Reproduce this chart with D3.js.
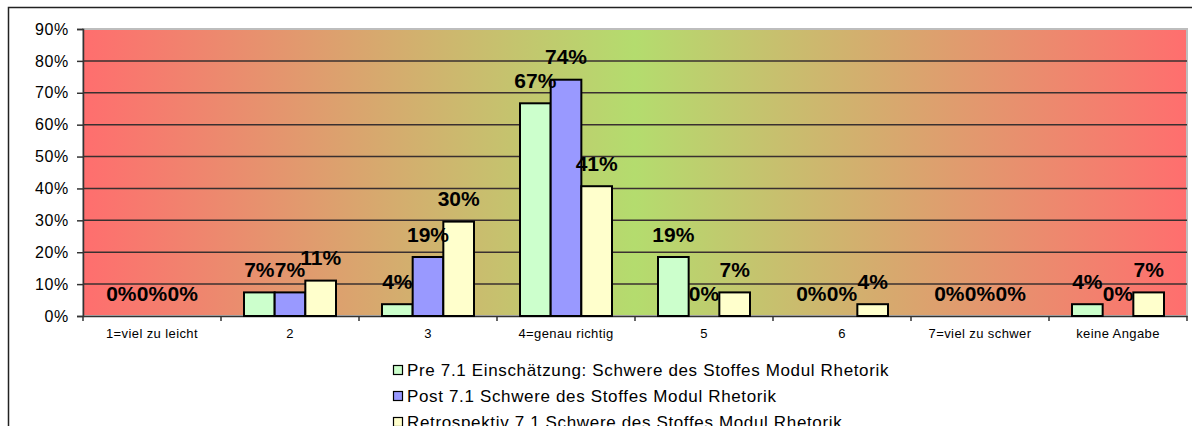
<!DOCTYPE html>
<html>
<head>
<meta charset="utf-8">
<script src="https://cdn.jsdelivr.net/npm/d3@7"></script>
<style>
  body { margin: 0; background: #fff; }
  svg { display: block; font-family: "Liberation Sans", Arial, sans-serif; }
</style>
</head>
<body>
<div id="chart"></div>
<script>
// data (n = 27 answers per series)
var categories = ["1=viel zu leicht", "2", "3", "4=genau richtig", "5", "6", "7=viel zu schwer", "keine Angabe"];
var seriesNames = [
    "Pre 7.1 Einschätzung: Schwere des Stoffes Modul Rhetorik",
    "Post 7.1 Schwere des Stoffes Modul Rhetorik",
    "Retrospektiv 7.1 Schwere des Stoffes Modul Rhetorik"
];
var preValues = [0, 7.4, 3.7, 66.7, 18.5, 0, 0, 3.7];
var postValues = [0, 7.4, 18.5, 74.1, 0, 0, 0, 0];
var retroValues = [0, 11.1, 29.6, 40.7, 7.4, 3.7, 0, 7.4];
var yTicks = [0, 10, 20, 30, 40, 50, 60, 70, 80, 90];
var palette = ["#CCFFCC", "#9999FF", "#FFFFCC"];

var width = 1192, height = 426;
var margin = { top: 29, right: 5, bottom: 110, left: 83 };

var allSeries = [preValues, postValues, retroValues];
var rows = [];
categories.forEach(function (c, i) {
    allSeries.forEach(function (s, j) {
        rows.push({ cat: c, series: j, value: s[i] });
    });
});

var x = d3.scaleBand()
    .domain(categories)
    .range([margin.left, width - margin.right])
    .paddingInner(0)
    .paddingOuter(0);
var xInner = d3.scaleBand()
    .domain([0, 1, 2])
    .range([x.bandwidth() / 6, x.bandwidth() * 5 / 6]);
var y = d3.scaleLinear()
    .domain([0, 90])
    .range([height - margin.bottom, margin.top]);

var svg = d3.select("#chart").append("svg")
    .attr("width", width)
    .attr("height", height);

// outer chart frame
svg.append("path")
    .attr("d", "M8.5," + height + "V7.5H" + width)
    .attr("fill", "none")
    .attr("stroke", "#222")
    .attr("stroke-width", 1.5);

// gradient background red - green - red
var defs = svg.append("defs");
var grad = defs.append("linearGradient")
    .attr("id", "bg")
    .attr("x1", "0%").attr("x2", "100%")
    .attr("y1", "0%").attr("y2", "0%");
grad.append("stop").attr("offset", "0%").attr("stop-color", "#FF6E6E");
grad.append("stop").attr("offset", "50%").attr("stop-color", "#B4DC6E");
grad.append("stop").attr("offset", "100%").attr("stop-color", "#FF6E6E");

var x0 = x.range()[0], x1 = x.range()[1];
svg.append("rect")
    .attr("x", x0)
    .attr("y", y(90))
    .attr("width", x1 - x0)
    .attr("height", y(0) - y(90))
    .attr("fill", "url(#bg)")
    .attr("stroke", "#BDBDBD")
    .attr("stroke-width", 2);

// gridlines
svg.append("g")
    .selectAll("line")
    .data(yTicks.filter(d => d > 0 && d < 90))
    .enter()
    .append("line")
        .attr("x1", x0)
        .attr("x2", x1)
        .attr("y1", d => y(d))
        .attr("y2", d => y(d))
        .attr("stroke", "#3a3030")
        .attr("stroke-width", 1.5);

// y axis
var yAxis = svg.append("g")
    .attr("transform", "translate(" + x0 + ",0)")
    .call(d3.axisLeft(y).tickValues(yTicks).tickFormat(d => d + "%").tickSize(6).tickPadding(8));
yAxis.select(".domain").attr("stroke", "#333").attr("stroke-width", 1.5);
yAxis.selectAll(".tick line").attr("stroke", "#333").attr("stroke-width", 1.5);
yAxis.selectAll("text")
    .style("font-size", "16px")
    .style("letter-spacing", "0.7px")
    .style("font-family", "Liberation Sans, Arial, sans-serif")
    .attr("fill", "#000");

// x axis
var xAxis = svg.append("g")
    .attr("transform", "translate(0," + y(0) + ")")
    .call(d3.axisBottom(x).tickSize(0).tickPadding(13));
xAxis.select(".domain").attr("stroke", "#333").attr("stroke-width", 1.5);
xAxis.selectAll("text")
    .style("font-size", "13px")
    .style("letter-spacing", "0.4px")
    .style("font-family", "Liberation Sans, Arial, sans-serif")
    .attr("fill", "#000");
// tick marks between categories
svg.append("g")
    .selectAll("line")
    .data(categories.concat(["end"]))
    .enter()
    .append("line")
        .attr("x1", (d, i) => x0 + i * x.bandwidth())
        .attr("x2", (d, i) => x0 + i * x.bandwidth())
        .attr("y1", y(0))
        .attr("y2", y(0) + 5)
        .attr("stroke", "#333")
        .attr("stroke-width", 1.5);

// bars
svg.append("g")
    .selectAll("rect")
    .data(rows.filter(d => d.value > 0))
    .enter()
    .append("rect")
        .attr("x", d => x(d.cat) + xInner(d.series))
        .attr("y", d => y(d.value))
        .attr("width", xInner.bandwidth())
        .attr("height", d => y(0) - y(d.value))
        .attr("fill", d => palette[d.series])
        .attr("stroke", "#000")
        .attr("stroke-width", 2);

// value labels
svg.append("g")
    .selectAll("text")
    .data(rows)
    .enter()
    .append("text")
        .text(d => Math.round(d.value) + "%")
        .attr("x", d => x(d.cat) + xInner(d.series) + xInner.bandwidth() / 2)
        .attr("y", d => y(d.value) - 15.5)
        .attr("text-anchor", "middle")
        .style("font-size", "21px")
        .style("font-weight", "bold")
        .attr("fill", "#000");

// legend
var legend = svg.append("g")
    .attr("transform", "translate(393,370)");
var item = legend.selectAll("g")
    .data(seriesNames)
    .enter()
    .append("g")
        .attr("transform", (d, i) => "translate(0," + i * 26 + ")");
item.append("rect")
    .attr("x", 0.5)
    .attr("y", -4.5)
    .attr("width", 9)
    .attr("height", 9)
    .attr("fill", (d, i) => palette[i])
    .attr("stroke", "#000")
    .attr("stroke-width", 1.2);
item.append("text")
    .text(d => d)
    .attr("x", 14)
    .attr("y", 6)
    .style("font-size", "17px")
    .style("letter-spacing", "0.65px")
    .attr("fill", "#000");
</script>
</body>
</html>
